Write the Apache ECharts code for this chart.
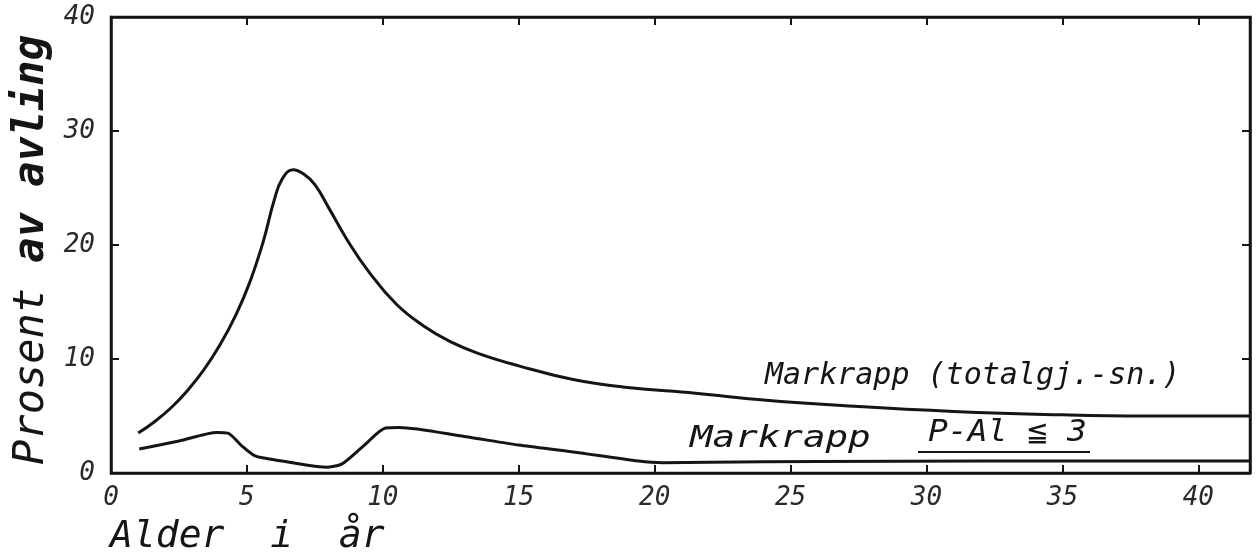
<!DOCTYPE html>
<html><head><meta charset="utf-8">
<script src="https://cdn.jsdelivr.net/npm/echarts@6/dist/echarts.min.js"></script>
<style>html,body{margin:0;padding:0;background:#fff}#c{width:1260px;height:552px}</style>
</head><body><div id="c"></div>
<script>
const xTicks = [0, 5, 10, 15, 20, 25, 30, 35, 40];
const yTicks = [0, 10, 20, 30, 40];
const totalX = [1.0, 1.6, 2.2, 2.8, 3.4, 4.0, 4.6, 5.1, 5.6, 6.0, 6.3, 6.7, 7.1, 7.5, 8.0, 8.7, 9.5, 10.5, 11.5, 12.5, 13.5, 15, 17, 19, 21.5, 24, 27, 31, 35, 38, 41.9];
const totalY = [3.5, 4.5, 5.7, 7.2, 9.0, 11.2, 13.9, 16.7, 20.3, 23.9, 25.8, 26.6, 26.2, 25.3, 23.3, 20.4, 17.6, 14.8, 12.9, 11.5, 10.5, 9.4, 8.2, 7.5, 7.0, 6.4, 5.9, 5.4, 5.1, 5.0, 5.0];
const lowX = [1.04, 2.5, 3.9, 4.3, 4.8, 5.3, 6.3, 7.3, 7.9, 8.5, 9.3, 10.1, 10.6, 13, 15, 17, 19.4, 20.3, 22, 26, 32, 41.9];
const lowY = [2.1, 2.8, 3.55, 3.5, 2.4, 1.5, 1.05, 0.65, 0.5, 0.8, 2.4, 3.95, 4.0, 3.2, 2.45, 1.85, 1.05, 0.9, 0.95, 1.0, 1.05, 1.05];
const nameTotal = 'Markrapp (totalgj.-sn.)';
const nameLow = 'Markrapp';
const nameLowSub = 'P-Al ≦ 3';
const yTitleA = 'Prosent ';
const yTitleB = 'av avling';
const xTitle = 'Alder  i  år';

const pairs = (xs, ys) => xs.map((x, i) => [x, ys[i]]);
const ink = '#151515';
const mono = '"DejaVu Sans Mono", monospace';
const tick = () => ({show: true, inside: true, length: 8, lineStyle: {color: ink, width: 2}});
const chart = echarts.init(document.getElementById('c'));
chart.setOption({
  backgroundColor: '#fff',
  animation: false,
  grid: {left: 111, right: 10, top: 17, bottom: 79, show: true, borderColor: ink, borderWidth: 2.5, backgroundColor: 'transparent'},
  xAxis: [{
    type: 'value', min: 0, max: 41.9, interval: 5,
    axisLine: {onZero: false, lineStyle: {color: ink, width: 2.5}},
    axisTick: tick(),
    axisLabel: {color: '#2a2a2a', fontSize: 26, fontStyle: 'italic', fontFamily: mono, margin: 12,
      formatter: v => xTicks.includes(v) ? String(v) : ''},
    splitLine: {show: false}
  }, {
    type: 'value', position: 'top', min: 0, max: 41.9, interval: 5,
    axisLine: {show: true, onZero: false, lineStyle: {color: ink, width: 2.5}},
    axisTick: tick(),
    axisLabel: {show: false}, splitLine: {show: false}
  }],
  yAxis: [{
    type: 'value', min: 0, max: 40, interval: 10,
    axisLine: {show: true, onZero: false, lineStyle: {color: ink, width: 2.5}},
    axisTick: tick(),
    axisLabel: {color: '#2a2a2a', fontSize: 26, fontStyle: 'italic', fontFamily: mono, margin: 16,
      formatter: v => yTicks.includes(v) ? String(v) : ''},
    splitLine: {show: false}
  }, {
    type: 'value', position: 'right', min: 0, max: 40, interval: 10,
    axisLine: {show: true, onZero: false, lineStyle: {color: ink, width: 2.5}},
    axisTick: tick(),
    axisLabel: {show: false}, splitLine: {show: false}
  }],
  series: [{
    name: nameTotal, type: 'line', smooth: 0.45, showSymbol: false,
    lineStyle: {color: ink, width: 3}, data: pairs(totalX, totalY)
  }, {
    name: nameLow, type: 'line', smooth: 0.25, showSymbol: false,
    lineStyle: {color: ink, width: 3}, data: pairs(lowX, lowY)
  }, {
    type: 'line', xAxisIndex: 1, yAxisIndex: 1, silent: true, showSymbol: false,
    lineStyle: {opacity: 0}, data: [[0, 0]]
  }],
  graphic: [
    {type: 'text', x: 32, y: 250, rotation: Math.PI / 2,
      style: {text: '{a|' + yTitleA + '}{b|' + yTitleB + '}', textAlign: 'center', textVerticalAlign: 'middle',
        rich: {a: {font: 'italic 42px ' + mono, fill: ink}, b: {font: 'italic bold 42px ' + mono, fill: ink}}}},
    {type: 'text', x: 110, y: 537,
      style: {text: xTitle, fill: ink, font: 'italic 38px ' + mono, textVerticalAlign: 'middle'}},
    {type: 'text', x: 765, y: 391,
      style: {text: nameTotal, fill: ink, font: 'italic 30px ' + mono, textVerticalAlign: 'bottom'}},
    {type: 'text', x: 690, y: 454, scaleX: 1.25,
      style: {text: nameLow, fill: ink, font: 'italic 30px ' + mono, textVerticalAlign: 'bottom'}},
    {type: 'text', x: 928, y: 448, scaleX: 1.1,
      style: {text: nameLowSub, fill: ink, font: 'italic 30px ' + mono, textVerticalAlign: 'bottom'}},
    {type: 'line', shape: {x1: 918, y1: 452, x2: 1090, y2: 452}, style: {stroke: ink, lineWidth: 2}}
  ]
});
</script></body></html>
